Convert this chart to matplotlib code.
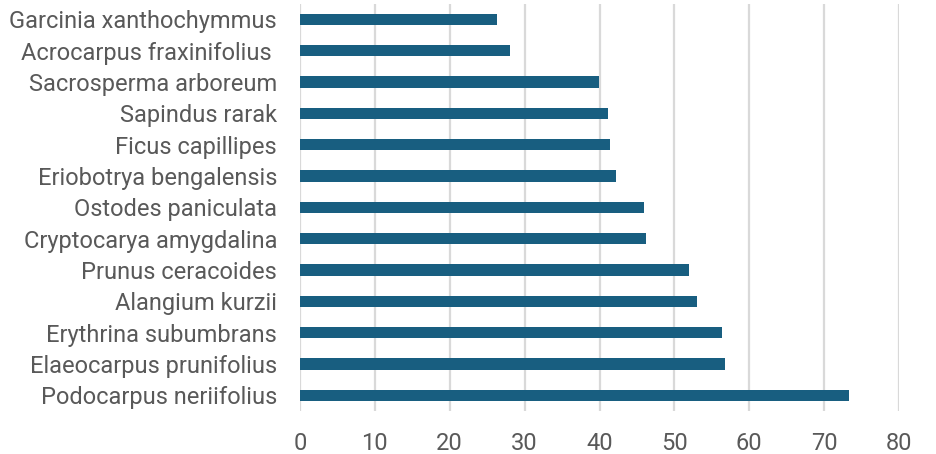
import numpy as np
import matplotlib
matplotlib.use("Agg")
import matplotlib.pyplot as plt

plt.rcParams['font.family'] = ['Roboto', 'DejaVu Sans']

species = [
    'Podocarpus neriifolius',
    'Elaeocarpus prunifolius',
    'Erythrina subumbrans',
    'Alangium kurzii',
    'Prunus ceracoides',
    'Cryptocarya amygdalina',
    'Ostodes paniculata',
    'Eriobotrya bengalensis',
    'Ficus capillipes',
    'Sapindus rarak',
    'Sacrosperma arboreum',
    'Acrocarpus fraxinifolius ',
    'Garcinia xanthochymmus',
]
values = [73.3, 56.7, 56.4, 53.0, 51.9, 46.2, 46.0, 42.2, 41.4, 41.2, 39.9, 28.1, 26.3]
xticks = [0, 10, 20, 30, 40, 50, 60, 70, 80]

bar_color = '#185e80'
text_color = '#595959'
grid_color = '#d9d9d9'

fig = plt.figure(figsize=(9.36, 4.54), dpi=100)
ax = fig.add_axes([0.3205, 0.0947, 0.64, 0.8973])

y = np.arange(len(species))
ax.barh(y, values, height=0.36, color=bar_color, zorder=3)

ax.set_xlim(0, 80)
ax.set_ylim(-0.5, len(species) - 0.5)
ax.set_xticks(xticks)
ax.set_yticks(y)
ax.set_yticklabels(species)

# vertical guide lines at every x tick, drawn under the bars
for xv in xticks:
    ax.axvline(xv, color=grid_color, lw=1.6, zorder=1)

for s in ax.spines.values():
    s.set_visible(False)
ax.tick_params(axis='both', length=0, labelsize=17, labelcolor=text_color)
ax.tick_params(axis='x', pad=15)
ax.tick_params(axis='y', pad=16.5)

fig.savefig('out.png', dpi=100)
